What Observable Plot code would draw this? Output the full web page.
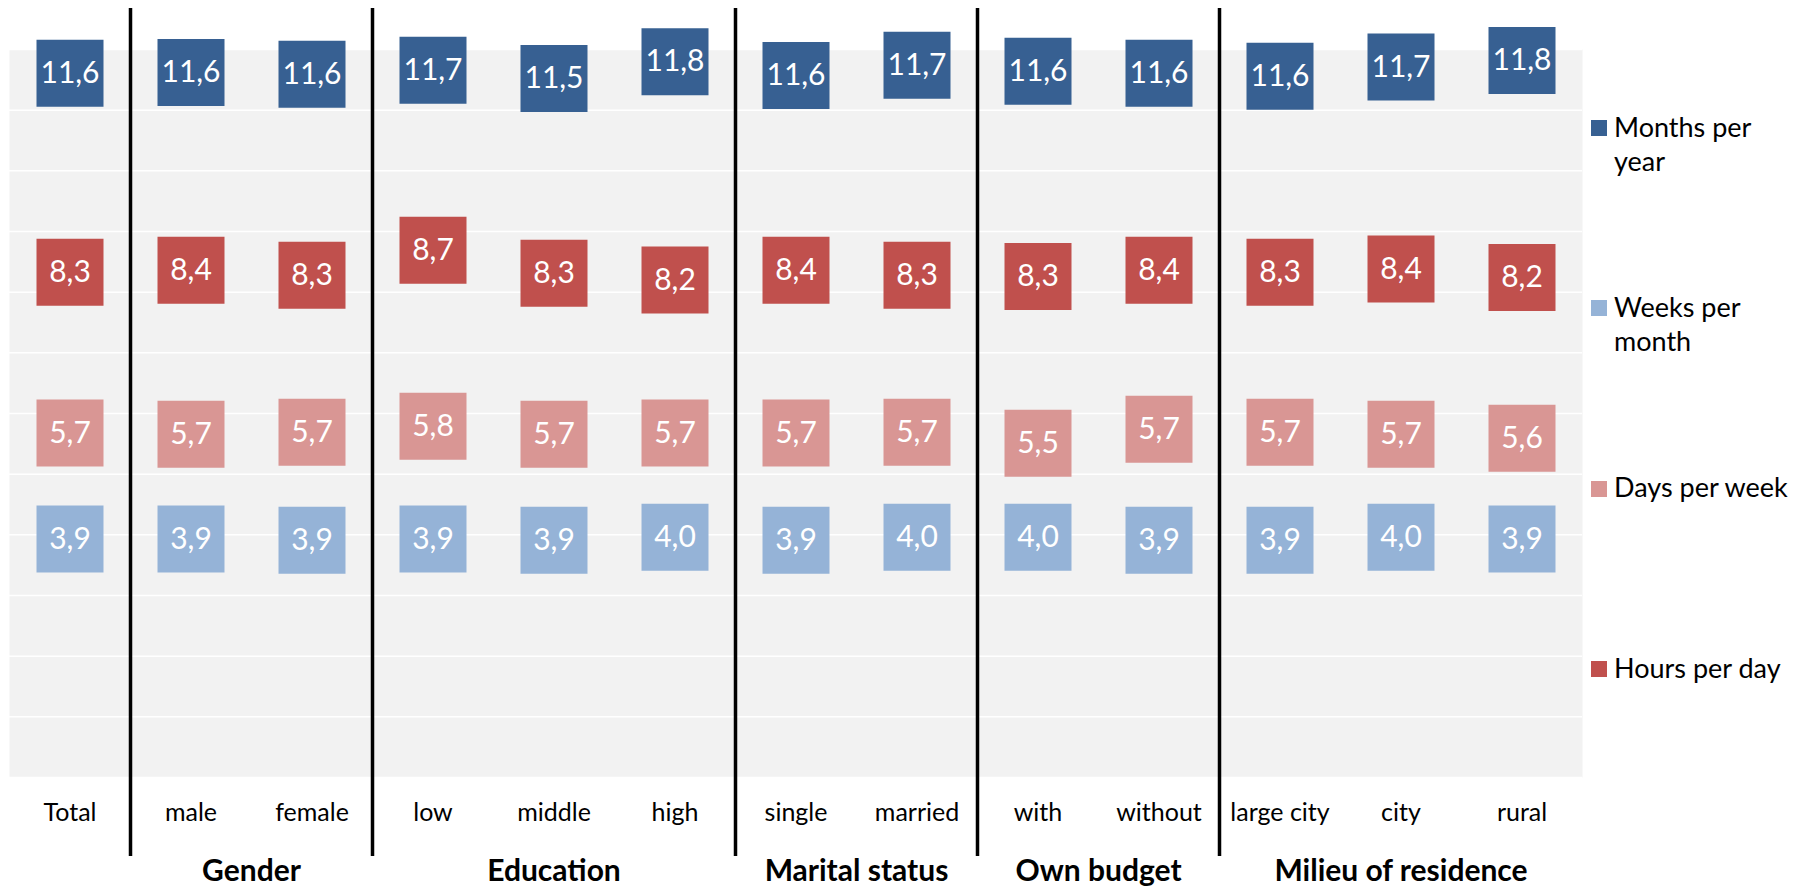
<!DOCTYPE html>
<html><head><meta charset="utf-8">
<script src="https://cdn.jsdelivr.net/npm/d3@7"></script>
<script src="https://cdn.jsdelivr.net/npm/@observablehq/plot@0.6"></script>
<style>
html,body{margin:0;padding:0;background:#fff;}
#wrap{position:relative;width:1806px;height:888px;overflow:hidden;font-family:Lato, sans-serif;}
.legend-item{position:absolute;left:1591px;display:flex;align-items:flex-start;}
.sw{width:16px;height:16px;margin-top:10.5px;margin-right:7px;flex:none;}
.lt{font-size:27px;line-height:34px;width:185px;color:#000;}
</style></head><body><div id="wrap"></div>
<script>
const categories = ["Total","male","female","low","middle","high","single","married","with","without","large city","city","rural"];
const groupOf = ["","Gender","Gender","Education","Education","Education","Marital status","Marital status","Own budget","Own budget","Milieu of residence","Milieu of residence","Milieu of residence"];
const series = ["Months per year","Weeks per month","Days per week","Hours per day"];
const colors = ["#376092","#95B3D7","#D99694","#C0504D"];
const monthsPerYear = [11.61,11.62,11.59,11.66,11.52,11.80,11.57,11.74,11.64,11.61,11.56,11.71,11.82];
const weeksPerMonth = [3.93,3.93,3.91,3.93,3.91,3.96,3.91,3.96,3.96,3.91,3.91,3.96,3.93];
const daysPerWeek = [5.68,5.66,5.69,5.79,5.66,5.68,5.68,5.69,5.51,5.74,5.69,5.66,5.59];
const hoursPerDay = [8.33,8.36,8.28,8.69,8.31,8.20,8.36,8.28,8.26,8.36,8.33,8.38,8.24];

const seriesValues = [monthsPerYear, weeksPerMonth, daysPerWeek, hoursPerDay];
const rows = categories.flatMap((c, i) => series.map((s, k) => ({i, category: c, series: s, value: seriesValues[k][i]})));
const fmt = v => v.toFixed(1).replace(".", ",");

// group separators and labels derived from the group list
const separators = [];
for (let i = 1; i < groupOf.length; i++) if (groupOf[i] !== groupOf[i - 1]) separators.push(i - 0.5);
const groupNames = [...new Set(groupOf.filter(g => g))];
const groupLabels = groupNames.map(name => {
  const idx = groupOf.map((g, i) => g === name ? i : null).filter(i => i !== null);
  return {name, center: d3.mean(idx)};
});

const plot = Plot.plot({
  width: 1806, height: 888,
  marginLeft: 9, marginRight: 224, marginTop: 49, marginBottom: 111,
  x: {type: "linear", domain: [-0.5, categories.length - 0.5], axis: null},
  y: {domain: [0, 12], axis: null},
  color: {domain: series, range: colors},
  style: {fontFamily: "Lato, sans-serif", fontSize: "24px", background: "white", overflow: "visible", color: "black"},
  marks: [
    Plot.frame({fill: "#F2F2F2", stroke: "none"}),
    Plot.gridY(d3.range(0, 13), {stroke: "white", strokeOpacity: 1, strokeWidth: 1.5}),
    Plot.ruleX(separators, {stroke: "black", strokeWidth: 3.5, insetTop: -41, insetBottom: -79}),
    Plot.dot(rows, {x: "i", y: "value", fill: "series", symbol: "square", r: 37.8, stroke: "none"}),
    Plot.text(rows, {x: "i", y: "value", text: d => fmt(d.value), fill: "white", fontSize: 30}),
    Plot.axisX(d3.range(categories.length), {tickFormat: i => categories[i], tickSize: 0, tickPadding: 26, fontSize: 25, anchor: "bottom", fill: "black"}),
    Plot.text(groupLabels, {x: "center", text: "name", frameAnchor: "bottom", dy: 103, fontSize: 30, fontWeight: "bold", fill: "black"})
  ]
});
const wrap = document.getElementById("wrap");
wrap.appendChild(plot);

series.forEach((s, k) => {
  const item = document.createElement("div");
  item.className = "legend-item";
  item.style.top = (109.6 + k * 180.3) + "px";
  const sw = document.createElement("div");
  sw.className = "sw";
  sw.style.background = colors[k];
  const lt = document.createElement("div");
  lt.className = "lt";
  lt.textContent = s;
  item.appendChild(sw);
  item.appendChild(lt);
  wrap.appendChild(item);
});
</script>
</body></html>
